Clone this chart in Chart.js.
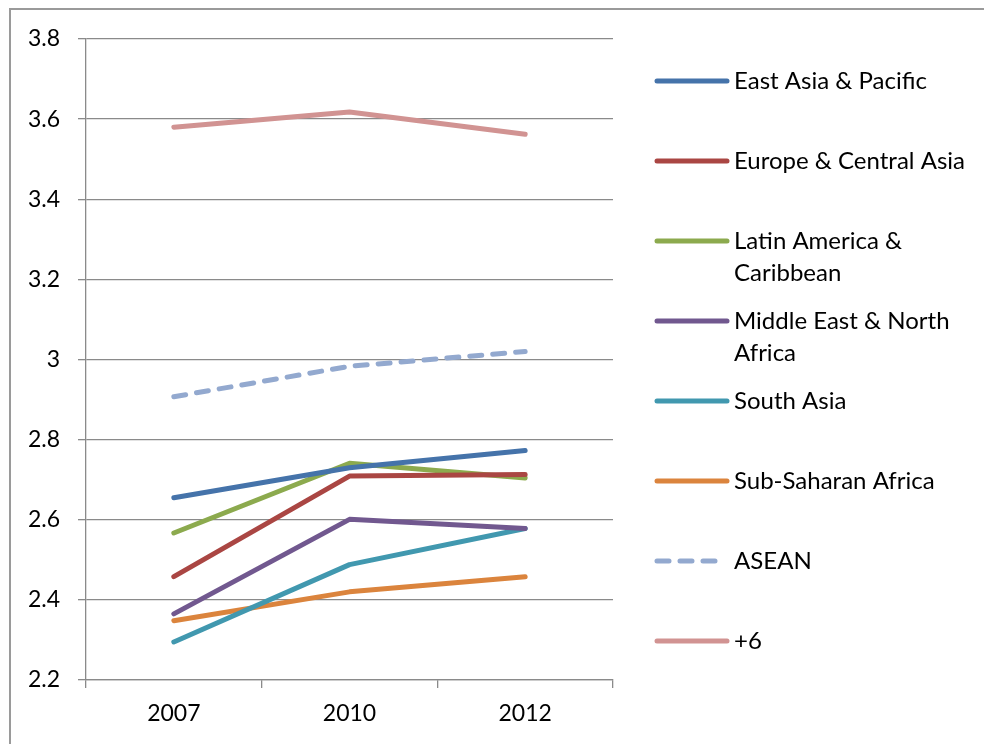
<!DOCTYPE html>
<html>
<head>
<meta charset="utf-8">
<script src="https://cdn.jsdelivr.net/npm/chart.js@4.4.1/dist/chart.umd.min.js"></script>
<style>
  html, body { margin: 0; padding: 0; background: #fff; overflow: hidden; }
  #wrap { position: relative; width: 984px; height: 744px; }
  #frame { position: absolute; left: 9px; top: 8px; width: 1000px; height: 800px; border: 2px solid #9a9a9a; box-sizing: border-box; }
  canvas { position: absolute; left: 0; top: 0; }
</style>
</head>
<body>
<div id="wrap">
  <div id="frame"></div>
  <canvas id="chart" width="984" height="744"></canvas>
</div>
<script>
const years = ['2007', '2010', '2012'];
const yTicks = [2.2, 2.4, 2.6, 2.8, 3, 3.2, 3.4, 3.6, 3.8];

const eastAsia = [2.655, 2.73, 2.773];
const europe = [2.458, 2.709, 2.713];
const latinAmerica = [2.567, 2.741, 2.704];
const middleEast = [2.365, 2.601, 2.578];
const southAsia = [2.295, 2.488, 2.578];
const subSaharan = [2.348, 2.42, 2.458];
const asean = [2.907, 2.983, 3.02];
const plusSix = [3.58, 3.618, 3.562];

const seriesNames = ['East Asia & Pacific', 'Europe & Central Asia', 'Latin America &\nCaribbean',
  'Middle East & North\nAfrica', 'South Asia', 'Sub-Saharan Africa', 'ASEAN', '+6'];

const FONT = 'Lato, "Open Sans", sans-serif';
const GRID = '#8a8a8a';

function line(label, data, color, dash) {
  return {
    label: label,
    data: data,
    borderColor: color,
    backgroundColor: color,
    borderWidth: 5,
    borderCapStyle: 'round',
    borderJoinStyle: 'round',
    borderDash: dash || [],
    pointRadius: 0,
    tension: 0,
    fill: false
  };
}

// legend drawn by hand so the labels can wrap onto two lines
const sideLegend = {
  id: 'sideLegend',
  afterDraw(chart) {
    const ctx = chart.ctx;
    const area = chart.chartArea;
    ctx.save();
    ctx.font = '24px ' + FONT;
    ctx.fillStyle = '#000';
    ctx.textBaseline = 'middle';
    ctx.textAlign = 'left';
    chart.data.datasets.forEach((ds, i) => {
      const y = area.top + 42 + i * 80;
      const x0 = area.right + 44;
      ctx.strokeStyle = ds.borderColor;
      ctx.lineWidth = 5;
      ctx.lineCap = 'round';
      ctx.setLineDash(ds.borderDash.length ? [12, 11] : []);
      ctx.beginPath();
      ctx.moveTo(x0, y);
      ctx.lineTo(ds.borderDash.length ? x0 + 64 : x0 + 70, y);
      ctx.stroke();
      ctx.setLineDash([]);
      ds.label.split('\n').forEach((t, k) => {
        ctx.fillText(t, area.right + 121, y + k * 32);
      });
    });
    ctx.restore();
  }
};

const ctx = document.getElementById('chart').getContext('2d');
new Chart(ctx, {
  type: 'line',
  data: {
    labels: years,
    datasets: [
      line(seriesNames[0], eastAsia, '#4573AA'),
      line(seriesNames[1], europe, '#AA4643'),
      line(seriesNames[2], latinAmerica, '#8CAA4E'),
      line(seriesNames[3], middleEast, '#71588F'),
      line(seriesNames[4], southAsia, '#4198AF'),
      line(seriesNames[5], subSaharan, '#DB843D'),
      line(seriesNames[6], asean, '#93A9CF', [12, 11]),
      line(seriesNames[7], plusSix, '#D19392')
    ]
  },
  options: {
    responsive: false,
    animation: false,
    layout: { padding: { left: 0, top: 39, right: 371, bottom: 0 } },
    plugins: { legend: { display: false }, tooltip: { enabled: false } },
    scales: {
      x: {
        offset: true,
        grid: { offset: true, drawOnChartArea: false, color: GRID, tickLength: 8, lineWidth: 1.3 },
        border: { color: GRID, width: 1.3 },
        ticks: { color: '#000', font: { family: FONT, size: 23 }, padding: 12 },
        afterFit(s) { s.height = 64; }
      },
      y: {
        min: 2.2,
        max: 3.8,
        afterBuildTicks(s) { s.ticks = yTicks.map(v => ({ value: v })); },
        grid: { color: GRID, tickLength: 8, lineWidth: 1.3 },
        border: { color: GRID, width: 1.3 },
        ticks: {
          color: '#000',
          font: { family: FONT, size: 23 },
          padding: 18,
          callback: v => String(Number(v.toFixed(1)))
        },
        afterFit(s) { s.width = 86; }
      }
    }
  },
  plugins: [sideLegend]
});
</script>
</body>
</html>
